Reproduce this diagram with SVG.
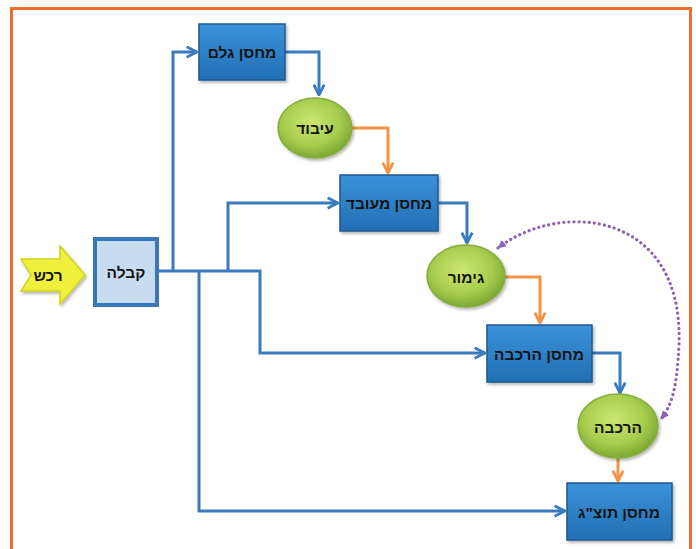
<svg xmlns="http://www.w3.org/2000/svg" width="696" height="549" viewBox="0 0 696 549">
<defs>
<style>
.box{fill:url(#gBox);stroke:#1d5891;stroke-width:1.5}
.ell{fill:url(#gEll);stroke:#86ad3c;stroke-width:1.5}
.lbl{font-family:"Liberation Sans","DejaVu Sans",Arial,sans-serif;font-weight:bold;font-size:15.5px;fill:#141414;text-anchor:middle;dominant-baseline:central}
.blue{fill:none;stroke:#3a7bbf;stroke-width:3;stroke-linejoin:miter;marker-end:url(#aBlue)}
.orange{fill:none;stroke:#f29445;stroke-width:3;marker-end:url(#aOrange)}
.purple{fill:none;stroke:#8d62b3;stroke-width:3.2;stroke-linecap:round;stroke-dasharray:0.1 5}
</style>
<linearGradient id="gBox" x1="0" y1="0" x2="0" y2="1">
<stop offset="0" stop-color="#3b92d8"/>
<stop offset="1" stop-color="#226fb4"/>
</linearGradient>
<radialGradient id="gEll" cx="0.45" cy="0.4" r="0.65">
<stop offset="0" stop-color="#cde672"/>
<stop offset="0.6" stop-color="#a6cc4d"/>
<stop offset="1" stop-color="#729f2c"/>
</radialGradient>
<filter id="sh" x="-20%" y="-20%" width="140%" height="140%">
<feDropShadow dx="1.5" dy="2" stdDeviation="1.5" flood-color="#000" flood-opacity="0.3"/>
</filter>
<marker id="aBlue" viewBox="0 0 10 10" refX="9" refY="5" markerWidth="13" markerHeight="13" markerUnits="userSpaceOnUse" orient="auto">
<path d="M1,1 L9,5 L1,9" fill="none" stroke="#3a7bbf" stroke-width="2.2"/>
</marker>
<marker id="aOrange" viewBox="0 0 10 10" refX="9" refY="5" markerWidth="13" markerHeight="13" markerUnits="userSpaceOnUse" orient="auto">
<path d="M1,1 L9,5 L1,9" fill="none" stroke="#f29445" stroke-width="2.2"/>
</marker>
<marker id="aPurple" viewBox="0 0 10 10" refX="8" refY="5" markerWidth="10" markerHeight="10" markerUnits="userSpaceOnUse" orient="auto-start-reverse">
<path d="M0,1 L9,5 L0,9 Z" fill="#8d62b3"/>
</marker>
</defs>
<rect x="0" y="0" width="696" height="549" fill="#ffffff"/>
<rect x="11.5" y="8.5" width="679" height="570" fill="none" stroke="#ec6f2d" stroke-width="3"/>

<g id="connectors">
<path class="blue" d="M158,271 H260 V353 H485"/>
<path class="blue" d="M173,271 V52 H197"/>
<path class="blue" d="M228,271 V203 H338"/>
<path class="blue" d="M199,271 V511 H565"/>
<path class="blue" d="M285,52 H319 V95"/>
<path class="blue" d="M438,203 H467 V243"/>
<path class="blue" d="M592,353 H620 V393"/>
<path class="orange" d="M352,128 H388 V173"/>
<path class="orange" d="M505,277 H540 V323"/>
<path class="orange" d="M618,458 V481"/>
<path class="purple" d="M498,248 C560,200 684,210 679,345 C677,388 672,405 661,419" marker-start="url(#aPurple)" marker-end="url(#aPurple)"/>
</g>

<g id="n-rechesh">
<path d="M21,259 L60,259 L60,246 L85,275 L60,304 L60,291 L21,291 L31,275 Z" fill="#eef03a" stroke="#d2d41c" stroke-width="1.5" filter="url(#sh)"/>
<text class="lbl" x="48" y="275">רכש</text>
</g>
<g id="n-kabala">
<rect x="95" y="239" width="62" height="66" fill="#c7dbf1" stroke="#3876b8" stroke-width="4"/>
<text class="lbl" x="126" y="272">קבלה</text>
</g>
<g id="n-machsan-gelem">
<rect class="box" x="199" y="24" width="86" height="56" filter="url(#sh)"/>
<text class="lbl" x="242" y="52">מחסן גלם</text>
</g>
<g id="n-ibud">
<ellipse class="ell" cx="315" cy="128" rx="37" ry="30" filter="url(#sh)"/>
<text class="lbl" x="315" y="128">עיבוד</text>
</g>
<g id="n-machsan-meubad">
<rect class="box" x="340" y="175" width="98" height="56" filter="url(#sh)"/>
<text class="lbl" x="389" y="203">מחסן מעובד</text>
</g>
<g id="n-gimur">
<ellipse class="ell" cx="466" cy="276" rx="39" ry="31" filter="url(#sh)"/>
<text class="lbl" x="466" y="277">גימור</text>
</g>
<g id="n-machsan-harkava">
<rect class="box" x="487" y="325" width="105" height="57" filter="url(#sh)"/>
<text class="lbl" x="539" y="354">מחסן הרכבה</text>
</g>
<g id="n-harkava">
<ellipse class="ell" cx="618" cy="426" rx="40" ry="32" filter="url(#sh)"/>
<text class="lbl" x="618" y="427">הרכבה</text>
</g>
<g id="n-machsan-totzag">
<rect class="box" x="567" y="483" width="105" height="57" filter="url(#sh)"/>
<text class="lbl" x="619" y="512">מחסן תוצ"ג</text>
</g>
</svg>
